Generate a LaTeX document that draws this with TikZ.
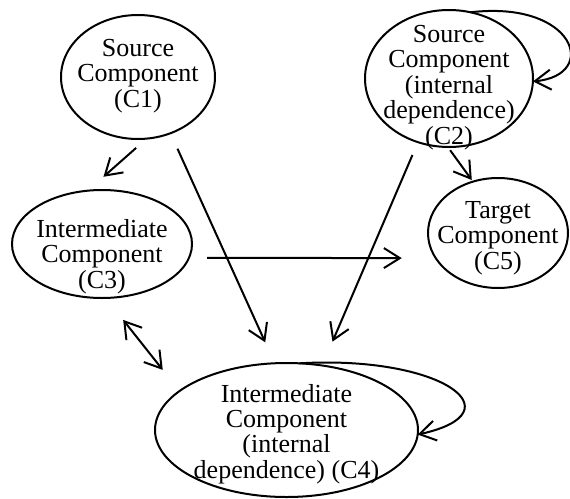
\documentclass[tikz,border=0pt]{standalone}
\usepackage{fontspec}
\setmainfont{Liberation Serif}
\usetikzlibrary{shapes.geometric,arrows.meta}

\newcommand{\ctext}[2][0pt]{\makebox[0pt]{\smash{\raisebox{\dimexpr-6pt-#1\relax}{\begin{tabular}{@{}c@{}}#2\end{tabular}}}}}

\begin{document}
\begin{tikzpicture}[x=1pt,y=-1pt,line width=2pt,>={Straight Barb[length=16pt,width=20pt]},
	main/.style = {draw, ellipse, inner sep=0pt, outer sep=0pt, font=\fontsize{26}{25}\selectfont}]
	\useasboundingbox (0,0) rectangle (570,498);
	\node[main,minimum width=154,minimum height=124] (1) at (138,77) {\ctext{Source\\Component\\(C1)}};
	\node[main,minimum width=168,minimum height=137] (2) at (449,78.5) {\ctext[10pt]{Source\\Component\\(internal\\dependence)\\(C2)}};
	\node[main,minimum width=180,minimum height=108] (3) at (102,244) {\ctext[14pt]{Intermediate\\Component\\(C3)}};
	\node[main,minimum width=263,minimum height=134] (4) at (286.5,430) {\ctext[5pt]{Intermediate\\Component\\(internal\\dependence) (C4)}};
	\node[main,minimum width=140,minimum height=110] (5) at (498,233) {\ctext[6pt]{Target\\Component\\(C5)}};
	\draw [->,shorten <=14pt,shorten >=21pt] (1.278) -- (3.105);
	\draw [->,shorten <=17pt,shorten >=23pt] (1.300) -- (4.100);
	\draw [->,shorten <=14pt,shorten >=26pt] (2.244) -- (4.61);
	\draw [->,shorten <=4pt,shorten >=2pt] (2.269) -- (5.116);
	\draw [->,shorten <=18pt,shorten >=34pt] (3.351) -- (5.202);
	\draw [<->,shorten <=28pt,shorten >=27pt] (3.274) -- (4.160);
	\draw [->] (2.72) .. controls (575,0) and (600,75) .. (2.358);
	\draw [->] (4.79) .. controls (440,355) and (520,412) .. (4.358);
\end{tikzpicture}
\end{document}
